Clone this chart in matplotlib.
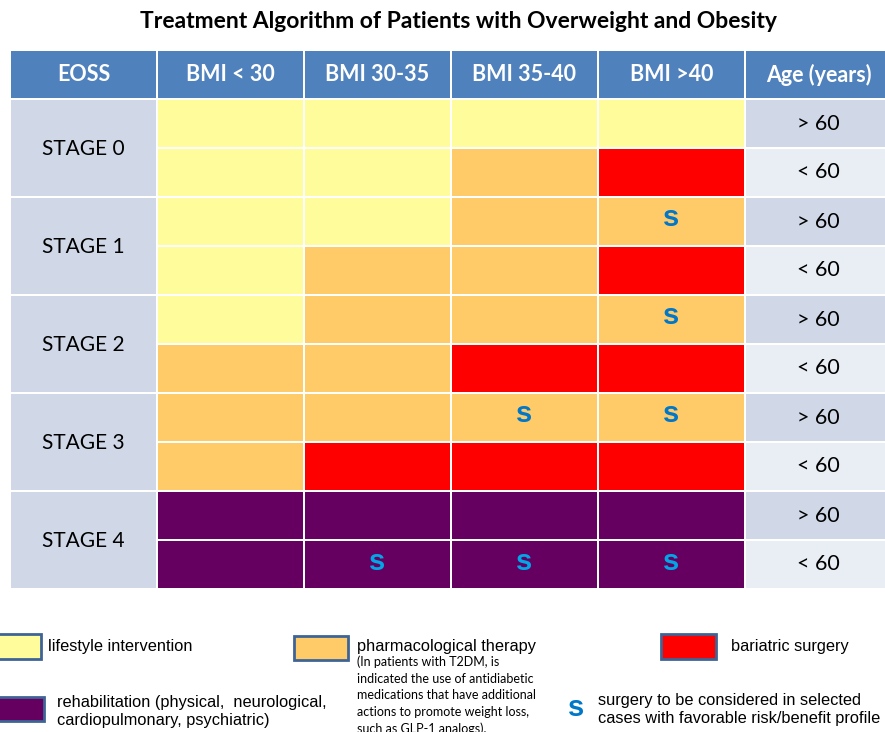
import matplotlib
matplotlib.use("Agg")
import matplotlib.pyplot as plt
from matplotlib.patches import Rectangle

# ---- data ----
title = "Treatment Algorithm of Patients with Overweight and Obesity"
headers = ["EOSS", "BMI < 30", "BMI 30-35", "BMI 35-40", "BMI >40", "Age (years)"]
stages = ["STAGE 0", "STAGE 1", "STAGE 2", "STAGE 3", "STAGE 4"]
ages = ["> 60", "< 60"]
# L = lifestyle, P = pharmacological, B = bariatric, R = rehabilitation
grid = [
    ["L", "L", "L", "L"],
    ["L", "L", "P", "B"],
    ["L", "L", "P", "P"],
    ["L", "P", "P", "B"],
    ["L", "P", "P", "P"],
    ["P", "P", "B", "B"],
    ["P", "P", "P", "P"],
    ["P", "B", "B", "B"],
    ["R", "R", "R", "R"],
    ["R", "R", "R", "R"],
]
surgery_flags = [
    [0, 0, 0, 0],
    [0, 0, 0, 0],
    [0, 0, 0, 1],
    [0, 0, 0, 0],
    [0, 0, 0, 1],
    [0, 0, 0, 0],
    [0, 0, 1, 1],
    [0, 0, 0, 0],
    [0, 0, 0, 0],
    [0, 1, 1, 1],
]
colors = {"L": "#FFFD9B", "P": "#FFCB69", "B": "#FF0000", "R": "#650061"}

# ---- layout ----
fig = plt.figure(figsize=(8.85, 7.32), dpi=100)
ax = fig.add_axes([0, 0, 1, 1])
ax.set_xlim(0, 885)
ax.set_ylim(732, 0)
ax.axis("off")

x0, colw = 10, 147
hy0, hh = 51, 47
ry0, rh = 99, 49
gap = 1.5

hfont = "Lato"
ax.text(459, 22, title, ha="center", va="center", fontsize=16.5,
        fontweight="bold", family=hfont, color="black")

# header
for j, h in enumerate(headers):
    ax.add_patch(Rectangle((x0 + j * colw + gap / 2, hy0), colw - gap, hh,
                           facecolor="#4F81BD", edgecolor="none"))
    ax.text(x0 + j * colw + colw / 2, hy0 + hh / 2, h, ha="center", va="center",
            fontsize=15.5, fontweight="bold", color="white", family=hfont)

# stage column
for s, st in enumerate(stages):
    y = ry0 + s * 2 * rh
    ax.add_patch(Rectangle((x0 + gap / 2, y + gap / 2), colw - gap, 2 * rh - gap,
                           facecolor="#D0D8E8", edgecolor="none"))
    ax.text(x0 + colw / 2, y + rh + 1, st, ha="center", va="center",
            fontsize=15, color="black", family=hfont)

# cells
for i, row in enumerate(grid):
    y = ry0 + i * rh
    for j, c in enumerate(row):
        x = x0 + (j + 1) * colw
        ax.add_patch(Rectangle((x + gap / 2, y + gap / 2), colw - gap, rh - gap,
                               facecolor=colors[c], edgecolor="none"))
        if surgery_flags[i][j]:
            scol = "#00A6E6" if c == "R" else "#0077C8"
            ax.text(x + colw / 2, y + rh / 2 - 3, "s", ha="center", va="center",
                    fontsize=21, fontweight="bold", color=scol,
                    family="Liberation Sans")
    # age column
    xa = x0 + 5 * colw
    ax.add_patch(Rectangle((xa + gap / 2, y + gap / 2), colw - gap, rh - gap,
                           facecolor="#D0D8E8" if i % 2 == 0 else "#E9EDF4",
                           edgecolor="none"))
    ax.text(xa + 73, y + rh / 2, ages[i % 2], ha="center", va="center",
            fontsize=15.5, color="black", family=hfont)

# ---- legend ----
edge = "#3E6496"
lfont = "Liberation Sans"
lsize = 11.8
ax.add_patch(Rectangle((-3, 634), 44, 25, facecolor=colors["L"], edgecolor=edge, lw=2))
ax.text(48, 646, "lifestyle intervention", ha="left", va="center", fontsize=lsize,
        family=lfont)
ax.add_patch(Rectangle((294, 636), 54, 24, facecolor=colors["P"], edgecolor=edge, lw=2))
ax.text(357, 646, "pharmacological therapy", ha="left", va="center", fontsize=lsize,
        family=lfont)
small = ["(In patients with T2DM, is", "indicated the use of antidiabetic",
         "medications that have additional", "actions to promote weight loss,",
         "such as GLP-1 analogs)."]
for k, line in enumerate(small):
    ax.text(357, 662 + k * 16.7, line, ha="left", va="center", fontsize=9.0,
            family=hfont)
ax.add_patch(Rectangle((661, 634), 55, 25, facecolor=colors["B"], edgecolor=edge, lw=2))
ax.text(731, 646, "bariatric surgery", ha="left", va="center", fontsize=lsize,
        family=lfont)
ax.add_patch(Rectangle((-3, 697), 47, 24, facecolor=colors["R"], edgecolor=edge, lw=2))
ax.text(57, 702, "rehabilitation (physical,  neurological,", ha="left", va="center",
        fontsize=lsize, family=lfont)
ax.text(57, 720, "cardiopulmonary, psychiatric)", ha="left", va="center",
        fontsize=lsize, family=lfont)
ax.text(576, 708, "s", ha="center", va="center", fontsize=21, fontweight="bold",
        color="#0077C8", family=lfont)
ax.text(598, 700, "surgery to be considered in selected", ha="left", va="center",
        fontsize=lsize, family=lfont)
ax.text(598, 719, "cases with favorable risk/benefit profile", ha="left", va="center",
        fontsize=lsize, family=lfont)

fig.savefig("out.png", dpi=100, facecolor="white")
